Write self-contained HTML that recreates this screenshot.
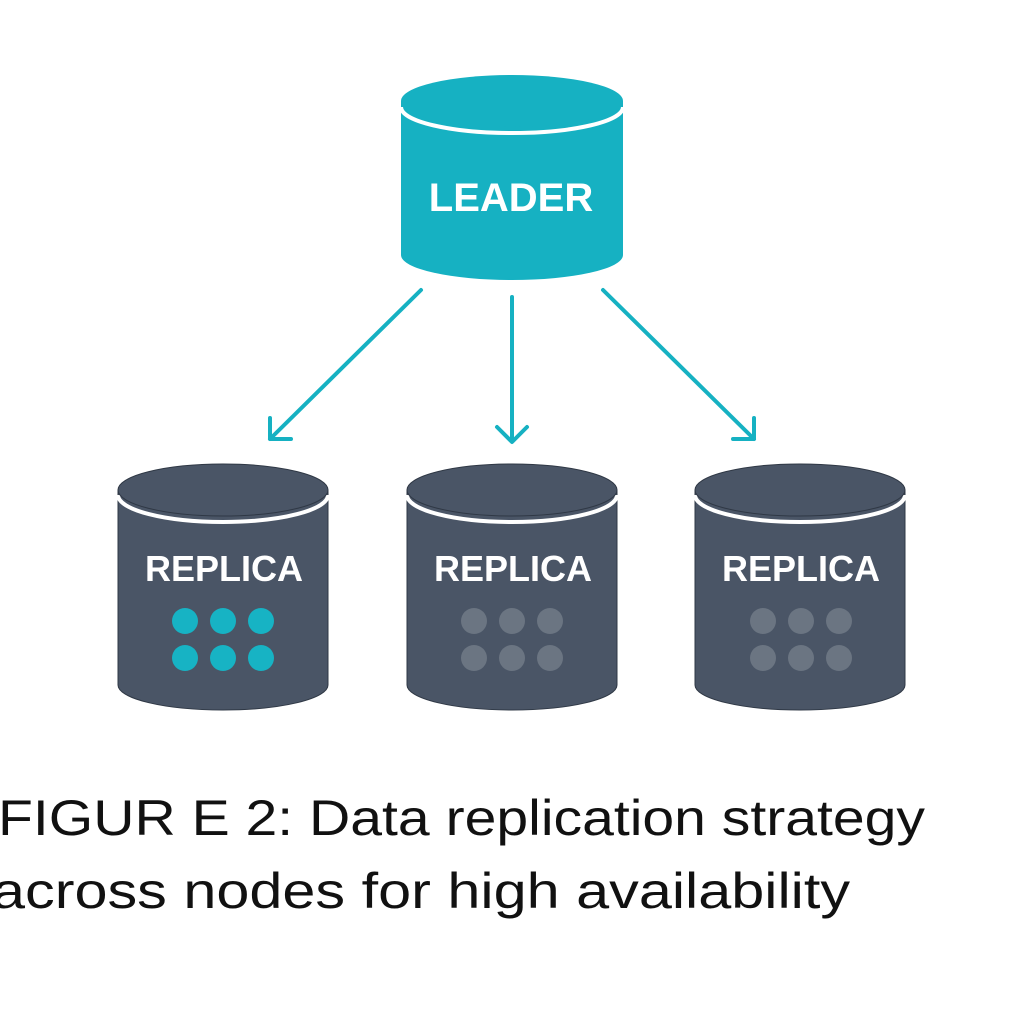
<!DOCTYPE html>
<html><head><style>
html,body{margin:0;padding:0;background:#fff;}
svg{display:block;}
</style></head><body>
<svg width="1024" height="1024" viewBox="0 0 1024 1024" xmlns="http://www.w3.org/2000/svg">
<defs>
<g id="rep">
  <path d="M-105,0 L-105,195 A105,25 0 0 0 105,195 L105,0 Z" fill="#4a5566" stroke="#2f3845" stroke-width="1"/>
  <path d="M-105,5 A105,27 0 0 0 105,5" fill="none" stroke="#fff" stroke-width="4"/>
  <ellipse cx="0" cy="0" rx="105" ry="26" fill="#4a5566" stroke="#2f3845" stroke-width="1"/>
</g>
</defs>
<!-- Leader -->
<path d="M-111,0 L-111,154 A111,25 0 0 0 111,154 L111,0 Z" transform="translate(512,101)" fill="#16b1c2"/>
<path d="M401,107 A111,26 0 0 0 623,107" fill="none" stroke="#fff" stroke-width="4"/>
<ellipse cx="512" cy="101" rx="111" ry="26" fill="#16b1c2"/>
<text x="511" y="211" text-anchor="middle" font-family="Liberation Sans, sans-serif" font-weight="bold" font-size="40" fill="#fff">LEADER</text>
<!-- arrows -->
<g stroke="#16b1c2" stroke-width="4" fill="none" stroke-linecap="round" stroke-linejoin="round">
  <line x1="421" y1="290" x2="270" y2="439"/>
  <polyline points="270,418 270,439 291,439"/>
  <line x1="512" y1="297" x2="512" y2="441"/>
  <polyline points="497,427 512,442 527,427"/>
  <line x1="603" y1="290" x2="754" y2="439"/>
  <polyline points="754,418 754,439 733,439"/>
</g>
<!-- replicas -->
<use href="#rep" x="223" y="490"/>
<use href="#rep" x="512" y="490"/>
<use href="#rep" x="800" y="490"/>
<g font-family="Liberation Sans, sans-serif" font-weight="bold" font-size="36" fill="#fff" text-anchor="middle">
<text x="224" y="581">REPLICA</text>
<text x="513" y="581">REPLICA</text>
<text x="801" y="581">REPLICA</text>
</g>
<g fill="#17b3c4">
<circle cx="185" cy="621" r="13"/><circle cx="223" cy="621" r="13"/><circle cx="261" cy="621" r="13"/>
<circle cx="185" cy="658" r="13"/><circle cx="223" cy="658" r="13"/><circle cx="261" cy="658" r="13"/>
</g>
<g fill="#6b7582">
<circle cx="474" cy="621" r="13"/><circle cx="512" cy="621" r="13"/><circle cx="550" cy="621" r="13"/>
<circle cx="474" cy="658" r="13"/><circle cx="512" cy="658" r="13"/><circle cx="550" cy="658" r="13"/>
<circle cx="763" cy="621" r="13"/><circle cx="801" cy="621" r="13"/><circle cx="839" cy="621" r="13"/>
<circle cx="763" cy="658" r="13"/><circle cx="801" cy="658" r="13"/><circle cx="839" cy="658" r="13"/>
</g>
<!-- caption -->
<g font-family="Liberation Sans, sans-serif" font-size="50" fill="#111">
<text x="-2" y="835" textLength="927" lengthAdjust="spacingAndGlyphs">FIGUR E 2: Data replication strategy</text>
<text x="-8" y="908" textLength="858" lengthAdjust="spacingAndGlyphs">across nodes for high availability</text>
</g>
</svg>
</body></html>
